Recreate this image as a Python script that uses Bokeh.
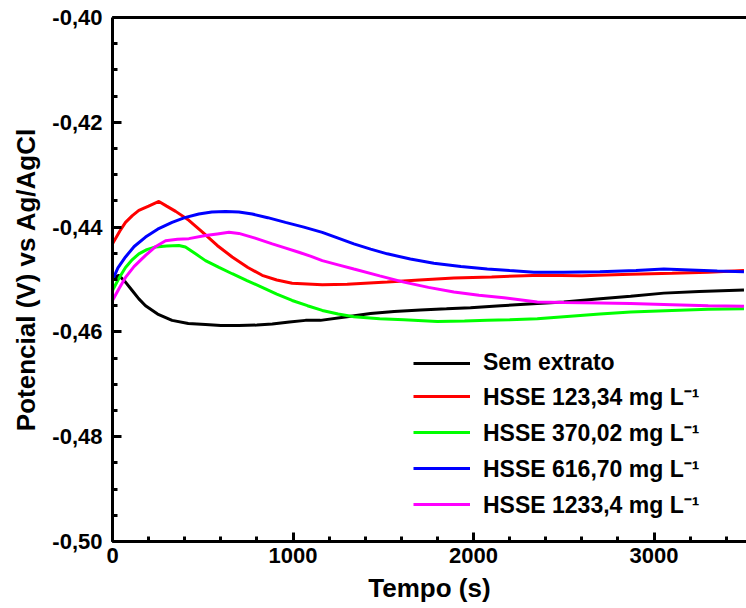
from bokeh.plotting import figure
from bokeh.models import (FixedTicker, LinearAxis, Legend, LegendItem, CustomJSTickFormatter, Range1d)
from bokeh.embed import file_html
from bokeh.resources import INLINE

# Data
t_sem = [0, 35, 72, 109, 146, 183, 250, 330, 420, 515, 600, 700, 800, 885, 980, 1069, 1152, 1300, 1429, 1560, 1706, 1850, 1983, 2150, 2353, 2500, 2685, 2870, 3054, 3250, 3498]
v_sem = [-0.4497, -0.4492, -0.4505, -0.4521, -0.4537, -0.4550, -0.4566, -0.4578, -0.4584, -0.4586, -0.4588, -0.4588, -0.4587, -0.4585, -0.4581, -0.4578, -0.4578, -0.4571, -0.4565, -0.4561, -0.4558, -0.4556, -0.4554, -0.4550, -0.4546, -0.4543, -0.4537, -0.4532, -0.4526, -0.4523, -0.4520]

t_123 = [0, 40, 72, 110, 146, 200, 257, 300, 350, 423, 500, 580, 663, 750, 829, 910, 995, 1162, 1300, 1522, 1700, 1891, 2100, 2371, 2600, 2870, 3100, 3300, 3498]
v_123 = [-0.4432, -0.4408, -0.4391, -0.4378, -0.4368, -0.4360, -0.4351, -0.4360, -0.4370, -0.4387, -0.4410, -0.4435, -0.4457, -0.4477, -0.4492, -0.4501, -0.4507, -0.4510, -0.4509, -0.4505, -0.4501, -0.4497, -0.4495, -0.4492, -0.4493, -0.4490, -0.4488, -0.4486, -0.4483]

t_370 = [0, 35, 72, 110, 146, 190, 238, 300, 368, 404, 460, 515, 590, 663, 745, 829, 910, 995, 1080, 1162, 1250, 1337, 1480, 1614, 1799, 1950, 2076, 2200, 2353, 2500, 2700, 2870, 3100, 3300, 3498]
v_370 = [-0.4521, -0.4498, -0.4477, -0.4462, -0.4451, -0.4443, -0.4438, -0.4436, -0.4435, -0.4438, -0.4451, -0.4464, -0.4477, -0.4489, -0.4502, -0.4515, -0.4528, -0.4540, -0.4550, -0.4559, -0.4566, -0.4571, -0.4575, -0.4577, -0.4580, -0.4579, -0.4578, -0.4577, -0.4575, -0.4571, -0.4566, -0.4562, -0.4559, -0.4557, -0.4556]

t_616 = [0, 30, 72, 120, 183, 250, 330, 400, 478, 550, 626, 700, 774, 860, 958, 1060, 1162, 1250, 1337, 1430, 1522, 1650, 1780, 1930, 2076, 2200, 2334, 2500, 2700, 2900, 3054, 3200, 3350, 3498]
v_616 = [-0.4501, -0.4478, -0.4457, -0.4437, -0.4419, -0.4404, -0.4391, -0.4382, -0.4375, -0.4371, -0.4370, -0.4371, -0.4375, -0.4382, -0.4391, -0.4400, -0.4410, -0.4421, -0.4432, -0.4442, -0.4451, -0.4461, -0.4469, -0.4475, -0.4480, -0.4483, -0.4486, -0.4486, -0.4485, -0.4483, -0.4480, -0.4482, -0.4484, -0.4485]

t_1233 = [0, 35, 72, 120, 183, 240, 294, 360, 423, 515, 580, 645, 700, 790, 885, 960, 1032, 1100, 1162, 1250, 1337, 1480, 1614, 1750, 1891, 2030, 2168, 2353, 2500, 2700, 2870, 3100, 3300, 3498]
v_1233 = [-0.4540, -0.4518, -0.4496, -0.4475, -0.4454, -0.4437, -0.4426, -0.4423, -0.4422, -0.4416, -0.4413, -0.4410, -0.4412, -0.4421, -0.4432, -0.4440, -0.4448, -0.4456, -0.4464, -0.4472, -0.4480, -0.4493, -0.4505, -0.4515, -0.4524, -0.4530, -0.4535, -0.4543, -0.4544, -0.4545, -0.4546, -0.4548, -0.4550, -0.4551]

series_labels = ["Sem extrato", "HSSE 123,34 mg L\u207b\u00b9", "HSSE 370,02 mg L\u207b\u00b9",
                 "HSSE 616,70 mg L\u207b\u00b9", "HSSE 1233,4 mg L\u207b\u00b9"]
series_colors = ["#000000", "#ff0000", "#00ff00", "#0000ff", "#ff00ff"]

x_ticks = [0, 1000, 2000, 3000]
y_ticks = [-0.50, -0.48, -0.46, -0.44, -0.42, -0.40]

FONT = "Liberation Sans"

p = figure(width=746, height=608, output_backend="svg", toolbar_location=None,
           x_range=Range1d(0, 3512), y_range=Range1d(-0.50, -0.40),
           min_border_left=112, min_border_right=0, min_border_top=17, min_border_bottom=67)
p.outline_line_color = None
p.xgrid.visible = False
p.ygrid.visible = False
p.background_fill_color = "white"

renderers = []
for tt, vv, c in zip([t_sem, t_123, t_370, t_616, t_1233],
                     [v_sem, v_123, v_370, v_616, v_1233], series_colors):
    r = p.line(tt, vv, line_color=c, line_width=3)
    renderers.append(r)

for ax in (p.xaxis[0], p.yaxis[0]):
    ax.axis_line_width = 3
    ax.major_tick_line_width = 3
    ax.minor_tick_line_width = 3
    ax.major_tick_in = 9
    ax.major_tick_out = 0
    ax.minor_tick_in = 5
    ax.minor_tick_out = 0
    ax.major_label_text_font = FONT
    ax.major_label_text_font_style = "bold"
    ax.major_label_text_font_size = "22px"
    ax.major_label_text_color = "black"
    ax.axis_label_text_font = FONT
    ax.axis_label_text_font_style = "bold"
    ax.axis_label_text_font_size = "26px"
    ax.axis_label_text_color = "black"

p.xaxis[0].ticker = FixedTicker(ticks=x_ticks, minor_ticks=list(range(0, 3601, 200)))
p.yaxis[0].ticker = FixedTicker(ticks=y_ticks, minor_ticks=[-0.50 + 0.005 * i for i in range(21)])
p.yaxis[0].formatter = CustomJSTickFormatter(code="return tick.toFixed(2).replace('.', ',');")
p.xaxis[0].major_label_standoff = 6
p.yaxis[0].major_label_standoff = 10
p.xaxis[0].axis_label = "Tempo (s)"
p.yaxis[0].axis_label = "Potencial (V) vs Ag/AgCl"
p.xaxis[0].axis_label_standoff = 7
p.yaxis[0].axis_label_standoff = 8

top = LinearAxis(axis_line_width=3, major_tick_line_color=None, minor_tick_line_color=None,
                 major_label_text_font_size="0px", ticker=FixedTicker(ticks=[]))
p.add_layout(top, "above")

items = [LegendItem(label=l, renderers=[r]) for l, r in zip(series_labels, renderers)]
legend = Legend(items=items, location=(301, 21), border_line_color=None,
                background_fill_alpha=0, padding=0, margin=0, spacing=4,
                glyph_width=57, glyph_height=20, label_height=20, label_standoff=13,
                label_text_font=FONT, label_text_font_style="bold",
                label_text_font_size="23px", label_text_color="black")
p.add_layout(legend, "center")

open("out.html", "w").write(file_html(p, INLINE))
